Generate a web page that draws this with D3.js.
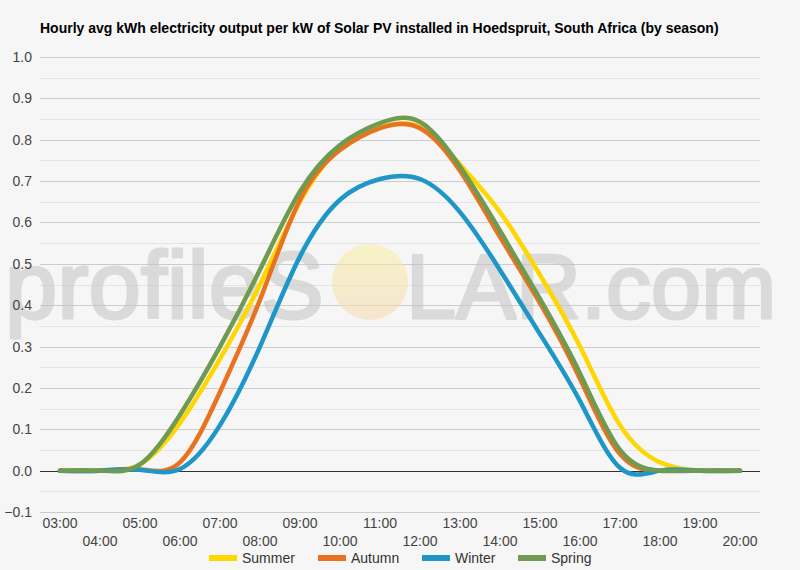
<!DOCTYPE html>
<html>
<head>
<meta charset="utf-8">
<script src="https://cdnjs.cloudflare.com/ajax/libs/d3/7.8.5/d3.min.js"></script>
<style>
html,body{margin:0;padding:0;background:#f6f6f6;}
svg{display:block;}
</style>
</head>
<body>
<svg id="chart" width="800" height="570"></svg>
<script>
const title = "Hourly avg kWh electricity output per kW of Solar PV installed in Hoedspruit, South Africa (by season)";
const hours = ["03:00","04:00","05:00","06:00","07:00","08:00","09:00","10:00","11:00","12:00","13:00","14:00","15:00","16:00","17:00","18:00","19:00","20:00"];
const seriesNames = ["Summer","Autumn","Winter","Spring"];
const summer = [0,0,0.015,0.115,0.27,0.45,0.65,0.78,0.83,0.83,0.74,0.625,0.473,0.30,0.11,0.02,0,0];
const autumn = [0,0,0.003,0.02,0.19,0.413,0.655,0.775,0.828,0.828,0.725,0.565,0.405,0.222,0.04,0,0,0];
const winter = [0,0,0.002,0.004,0.11,0.30,0.518,0.655,0.705,0.705,0.625,0.485,0.33,0.168,0.007,0,0,0];
const spring = [0,0,0.015,0.135,0.30,0.486,0.675,0.787,0.84,0.843,0.735,0.58,0.415,0.235,0.05,0,0,0];
const yTicks = [-0.1,0,0.1,0.2,0.3,0.4,0.5,0.6,0.7,0.8,0.9,1.0];
const colors = ["#FFD700","#E8731F","#1E96C8","#6F9A52"];

const svg = d3.select("#chart");
const W = 800, H = 570;
const FONT = "Arial, 'Liberation Sans', sans-serif";

const x = d3.scaleBand().domain(hours).range([40, 760]);
const xc = d => x(d) + x.bandwidth()/2;
const y = d3.scaleLinear().domain([-0.1, 1.0]).range([512, 57]);

svg.append("rect").attr("width",W).attr("height",H).attr("fill","#f6f6f6");

// minor gridlines
const minor = d3.range(-0.05, 1.0, 0.1).map(v => +v.toFixed(2));
svg.append("g").selectAll("line").data(minor).join("line")
  .attr("x1",40).attr("x2",760)
  .attr("y1",d=>Math.round(y(d))+0.5).attr("y2",d=>Math.round(y(d))+0.5)
  .attr("stroke","#e4e4e4").attr("stroke-width",1);

// major gridlines
svg.append("g").selectAll("line").data(yTicks.filter(v=>v!==0)).join("line")
  .attr("x1",40).attr("x2",760)
  .attr("y1",d=>Math.round(y(d))+0.5).attr("y2",d=>Math.round(y(d))+0.5)
  .attr("stroke","#cccccc").attr("stroke-width",1);

// watermark
const wm = svg.append("g").attr("opacity",0.55);
wm.append("text").attr("x",5).attr("y",318).attr("font-family",FONT)
  .attr("font-size",94).attr("fill","#c4c4c4").attr("stroke","#c4c4c4").attr("stroke-width",3)
  .attr("stroke-linejoin","round").text("profileS");
const grad = svg.append("defs").append("linearGradient").attr("id","sun").attr("x1",0).attr("y1",0).attr("x2",0).attr("y2",1);
grad.append("stop").attr("offset","0%").attr("stop-color","#f8f0a0");
grad.append("stop").attr("offset","100%").attr("stop-color","#f6d9b0");
wm.append("circle").attr("cx",370).attr("cy",282).attr("r",38).attr("fill","url(#sun)");
wm.append("text").attr("x",406).attr("y",318).attr("font-family",FONT)
  .attr("font-size",90).attr("fill","#c4c4c4").attr("stroke","#c4c4c4").attr("stroke-width",3)
  .attr("stroke-linejoin","round").text("LAR.com");

// zero line
svg.append("line").attr("x1",40).attr("x2",760).attr("y1",Math.round(y(0))+0.5).attr("y2",Math.round(y(0))+0.5)
  .attr("stroke","#333").attr("stroke-width",1);

// y labels
svg.append("g").selectAll("text").data(yTicks).join("text")
  .attr("x",32).attr("y",d=>y(d)+5).attr("text-anchor","end")
  .attr("font-family",FONT).attr("font-size",14).attr("fill","#444")
  .text(d=>d3.format(".1f")(d));

// x labels
svg.append("g").selectAll("text").data(hours).join("text")
  .attr("x",d=>xc(d)).attr("y",(d,i)=> i%2===0 ? 528 : 546).attr("text-anchor","middle")
  .attr("font-family",FONT).attr("font-size",14).attr("fill","#444")
  .text(d=>d);

// lines
const data = [summer, autumn, winter, spring];
const line = d3.line().x((d,i)=>xc(hours[i])).y(d=>y(d)).curve(d3.curveNatural);
svg.append("g").selectAll("path").data(data).join("path")
  .attr("d",d=>line(d)).attr("fill","none")
  .attr("stroke",(d,i)=>colors[i]).attr("stroke-width",4.5)
  .attr("stroke-linejoin","round").attr("stroke-linecap","round");

// title
svg.append("text").attr("x",40).attr("y",33)
  .attr("font-family",FONT).attr("font-size",14).attr("font-weight","bold").attr("fill","#000")
  .text(title);

// legend
const legX = [209, 318, 422, 518];
const lg = svg.append("g").selectAll("g").data(seriesNames).join("g")
  .attr("transform",(d,i)=>`translate(${legX[i]},558)`);
lg.append("rect").attr("x",0).attr("y",-3).attr("width",28).attr("height",6).attr("fill",(d,i)=>colors[i]);
lg.append("text").attr("x",33).attr("y",5).attr("font-family",FONT)
  .attr("font-size",14).attr("fill","#333").text(d=>d);
</script>
</body>
</html>
